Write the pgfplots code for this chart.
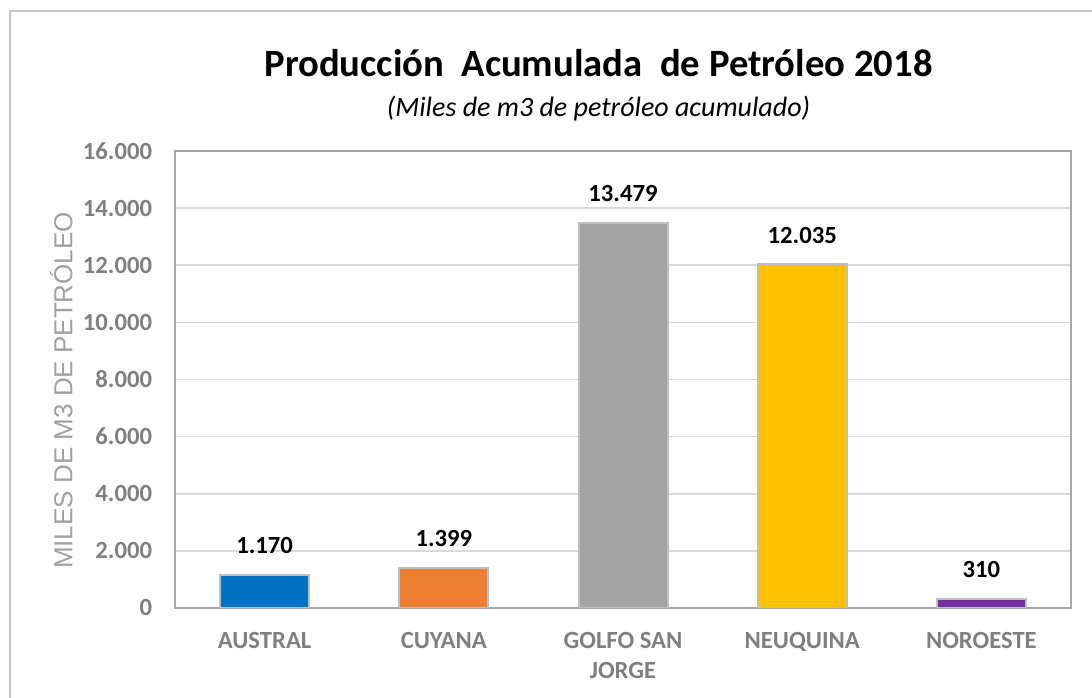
\documentclass[border=0pt]{standalone}
\usepackage{pgfplots}
\pgfplotsset{compat=1.18}
\usepackage{fontspec}
\setmainfont{Carlito}
\newfontfamily\arialf{Liberation Sans}
\definecolor{cblue}{HTML}{0070C0}
\definecolor{corange}{HTML}{ED7D31}
\definecolor{cgray}{HTML}{A3A3A3}
\definecolor{cyellow}{HTML}{FFC000}
\definecolor{cpurple}{HTML}{7030A0}
\definecolor{tickgray}{HTML}{7F7F7F}
\definecolor{labgray}{HTML}{A0A0A0}
\definecolor{framegray}{HTML}{A6A6A6}
\definecolor{gridgray}{HTML}{D9D9D9}
\definecolor{bordergray}{HTML}{BFBFBF}
\definecolor{outergray}{HTML}{C4C4C4}
\begin{document}
\begin{tikzpicture}[x=0.75pt,y=0.75pt]
\useasboundingbox (0,0) rectangle (1092,698);
\draw[outergray, line width=1.5pt] (10,-5) -- (10,687) -- (1100,687);
\begin{axis}[
  at={(131.25pt,67.5pt)}, anchor=south west,
  scale only axis, width=672pt, height=342.75pt,
  xmin=-0.5, xmax=4.5, ymin=0, ymax=16000,
  ytick={0,2000,...,16000},
  xtick={0,1,2,3,4},
  xticklabels={AUSTRAL,CUYANA,{GOLFO SAN\\JORGE},NEUQUINA,NOROESTE},
  scaled y ticks=false,
  /pgf/number format/assume math mode=true,
  /pgf/number format/1000 sep={.},
  ymajorgrids,
  grid style={draw=gridgray, line width=1.2pt},
  axis line style={draw=framegray, line width=1.5pt},
  major tick style={draw=none},
  xticklabel style={font=\fontsize{18.5}{22.5}\selectfont\bfseries, text=tickgray, align=center, anchor=north, inner sep=0pt, yshift=-14pt},
  yticklabel style={font=\fontsize{18.5}{22}\selectfont\bfseries, text=tickgray, anchor=east, inner sep=0pt, xshift=-17pt},
  ylabel={MILES DE M3 DE PETRÓLEO},
  ylabel style={at={(rel axis cs:-0.127,0.476)}, anchor=center, font=\arialf\fontsize{19.5}{22}\selectfont, text=labgray},
  title={Producción\ \ Acumulada\ \ de Petróleo 2018},
  title style={at={(rel axis cs:0.4727,1.175)}, anchor=center, font=\fontsize{29}{32}\selectfont\bfseries},
  ybar, bar width=66.75pt, bar shift=0pt,
  nodes near coords={\pgfmathprintnumber[assume math mode=true,1000 sep={.}]{\pgfplotspointmeta}},
  nodes near coords style={font=\fontsize{18.5}{22}\selectfont\bfseries, text=black, anchor=south, inner sep=0pt, yshift=15pt},
  every axis plot/.append style={draw=bordergray, line width=1.5pt},
  after end axis/.code={
    \node[font=\fontsize{21}{24}\selectfont\itshape, anchor=center] at (rel axis cs:0.4727,1.094) {(Miles de m3 de petróleo acumulado)};
  },
]
\addplot[fill=cblue] coordinates {(0,1170)};
\addplot[fill=corange] coordinates {(1,1399)};
\addplot[fill=cgray] coordinates {(2,13479)};
\addplot[fill=cyellow] coordinates {(3,12035)};
\addplot[fill=cpurple] coordinates {(4,310)};
\end{axis}
\end{tikzpicture}
\end{document}
